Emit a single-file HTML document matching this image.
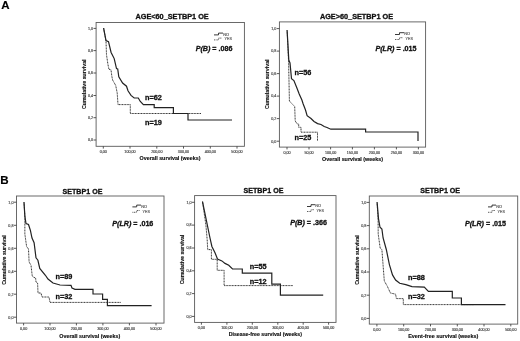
<!DOCTYPE html>
<html><head><meta charset="utf-8"><title>Figure</title>
<style>
html,body{margin:0;padding:0;background:#fff;}
svg{display:block;font-family:"Liberation Sans", Arial, sans-serif;filter:blur(0.25px);}
</style></head><body>
<svg width="520" height="341" viewBox="0 0 520 341">
<rect width="520" height="341" fill="#fff"/>
<text x="1.20" y="9.42" font-size="11.5" text-anchor="start" font-weight="bold" fill="#000" stroke="#000" stroke-width="0.15">A</text>
<text x="0.25" y="184.00" font-size="11.6" text-anchor="start" font-weight="bold" fill="#000" stroke="#000" stroke-width="0.15">B</text>
<rect x="96.1" y="22.5" width="148.30" height="123.80" fill="none" stroke="#5a5a5a" stroke-width="0.9"/>
<text x="172.10" y="18.71" font-size="7.3" text-anchor="middle" font-weight="bold" fill="#111" stroke="#111" stroke-width="0.3">AGE&lt;60_SETBP1 OE</text>
<path d="M93.50 28.4H96.1" stroke="#3a3a3a" stroke-width="0.85"/>
<text x="93.10" y="29.72" font-size="3.7" text-anchor="end" font-weight="normal" fill="#444" stroke="#444" stroke-width="0.15">1,0</text>
<path d="M93.50 50.6H96.1" stroke="#3a3a3a" stroke-width="0.85"/>
<text x="93.10" y="51.92" font-size="3.7" text-anchor="end" font-weight="normal" fill="#444" stroke="#444" stroke-width="0.15">0,8</text>
<path d="M93.50 73.0H96.1" stroke="#3a3a3a" stroke-width="0.85"/>
<text x="93.10" y="74.32" font-size="3.7" text-anchor="end" font-weight="normal" fill="#444" stroke="#444" stroke-width="0.15">0,6</text>
<path d="M93.50 95.5H96.1" stroke="#3a3a3a" stroke-width="0.85"/>
<text x="93.10" y="96.82" font-size="3.7" text-anchor="end" font-weight="normal" fill="#444" stroke="#444" stroke-width="0.15">0,4</text>
<path d="M93.50 117.7H96.1" stroke="#3a3a3a" stroke-width="0.85"/>
<text x="93.10" y="119.02" font-size="3.7" text-anchor="end" font-weight="normal" fill="#444" stroke="#444" stroke-width="0.15">0,2</text>
<path d="M93.50 140.0H96.1" stroke="#3a3a3a" stroke-width="0.85"/>
<text x="93.10" y="141.32" font-size="3.7" text-anchor="end" font-weight="normal" fill="#444" stroke="#444" stroke-width="0.15">0,0</text>
<path d="M103.3 146.3V148.60" stroke="#3a3a3a" stroke-width="0.85"/>
<text x="103.30" y="152.92" font-size="3.7" text-anchor="middle" font-weight="normal" fill="#444" stroke="#444" stroke-width="0.15">0,00</text>
<path d="M130 146.3V148.60" stroke="#3a3a3a" stroke-width="0.85"/>
<text x="130.00" y="152.92" font-size="3.7" text-anchor="middle" font-weight="normal" fill="#444" stroke="#444" stroke-width="0.15">100,00</text>
<path d="M156.8 146.3V148.60" stroke="#3a3a3a" stroke-width="0.85"/>
<text x="156.80" y="152.92" font-size="3.7" text-anchor="middle" font-weight="normal" fill="#444" stroke="#444" stroke-width="0.15">200,00</text>
<path d="M183.5 146.3V148.60" stroke="#3a3a3a" stroke-width="0.85"/>
<text x="183.50" y="152.92" font-size="3.7" text-anchor="middle" font-weight="normal" fill="#444" stroke="#444" stroke-width="0.15">300,00</text>
<path d="M210.3 146.3V148.60" stroke="#3a3a3a" stroke-width="0.85"/>
<text x="210.30" y="152.92" font-size="3.7" text-anchor="middle" font-weight="normal" fill="#444" stroke="#444" stroke-width="0.15">400,00</text>
<path d="M237 146.3V148.60" stroke="#3a3a3a" stroke-width="0.85"/>
<text x="237.00" y="152.92" font-size="3.7" text-anchor="middle" font-weight="normal" fill="#444" stroke="#444" stroke-width="0.15">500,00</text>
<text x="170.00" y="160.32" font-size="5.35" text-anchor="middle" font-weight="bold" fill="#111" stroke="#111" stroke-width="0.15">Overall survival (weeks)</text>
<text transform="translate(86.18 84.3) rotate(-90)" font-size="5.25" text-anchor="middle" font-weight="bold" fill="#111" stroke="#111" stroke-width="0.15">Cumulative survival</text>
<path d="M214 34.9H218.5V33.1H223" fill="none" stroke="#222" stroke-width="0.9"/>
<path d="M214 39.9H218.5V38.1H222" fill="none" stroke="#333" stroke-width="0.8" stroke-dasharray="1 0.6"/>
<text x="223.30" y="35.50" font-size="3.9" text-anchor="start" font-weight="normal" fill="#555" stroke="#555" stroke-width="0.15">NO</text>
<text x="224.60" y="40.39" font-size="3.6" text-anchor="start" font-weight="normal" fill="#555" stroke="#555" stroke-width="0.15">YES</text>
<text x="214.00" y="51.26" font-size="7.15" text-anchor="middle" font-weight="bold" fill="#111" stroke="#111" stroke-width="0.3"><tspan font-style="italic">P(B)</tspan> = .086</text>
<text x="153.40" y="100.31" font-size="7.3" text-anchor="middle" font-weight="bold" fill="#111" stroke="#111" stroke-width="0.3">n=62</text>
<text x="153.40" y="124.81" font-size="7.3" text-anchor="middle" font-weight="bold" fill="#111" stroke="#111" stroke-width="0.3">n=19</text>
<path d="M103.60 28.20L106.00 41.00L106.50 54.80L108.00 64.80L109.00 69.40L111.00 69.80L111.80 76.00L112.60 80.00L115.70 85.40L117.20 93.00L118.00 104.60L130.30 104.60L130.30 113.50L201.00 113.50" fill="none" stroke="#303030" stroke-width="1.0" stroke-dasharray="1 0.55"/>
<path d="M103.60 28.20L106.00 40.60L108.50 41.70L111.10 52.50L114.20 58.60L116.50 68.60L117.70 69.00L118.80 76.90L122.60 83.00L126.50 86.20L128.00 90.80L131.00 95.40L134.20 98.00L138.30 98.00L140.30 101.50L143.40 104.60L154.20 104.60L154.20 107.70L173.40 107.70L173.40 113.50L188.00 113.50L188.00 120.00L232.00 120.00" fill="none" stroke="#222" stroke-width="1.2" stroke-linejoin="miter"/>
<rect x="279.4" y="21.9" width="146.20" height="125.20" fill="none" stroke="#5a5a5a" stroke-width="0.9"/>
<text x="356.50" y="18.61" font-size="7.3" text-anchor="middle" font-weight="bold" fill="#111" stroke="#111" stroke-width="0.3">AGE&gt;60_SETBP1 OE</text>
<path d="M276.80 28.6H279.4" stroke="#3a3a3a" stroke-width="0.85"/>
<text x="276.40" y="29.92" font-size="3.7" text-anchor="end" font-weight="normal" fill="#444" stroke="#444" stroke-width="0.15">1,0</text>
<path d="M276.80 51.1H279.4" stroke="#3a3a3a" stroke-width="0.85"/>
<text x="276.40" y="52.42" font-size="3.7" text-anchor="end" font-weight="normal" fill="#444" stroke="#444" stroke-width="0.15">0,8</text>
<path d="M276.80 73.6H279.4" stroke="#3a3a3a" stroke-width="0.85"/>
<text x="276.40" y="74.92" font-size="3.7" text-anchor="end" font-weight="normal" fill="#444" stroke="#444" stroke-width="0.15">0,6</text>
<path d="M276.80 96.1H279.4" stroke="#3a3a3a" stroke-width="0.85"/>
<text x="276.40" y="97.42" font-size="3.7" text-anchor="end" font-weight="normal" fill="#444" stroke="#444" stroke-width="0.15">0,4</text>
<path d="M276.80 118.6H279.4" stroke="#3a3a3a" stroke-width="0.85"/>
<text x="276.40" y="119.92" font-size="3.7" text-anchor="end" font-weight="normal" fill="#444" stroke="#444" stroke-width="0.15">0,2</text>
<path d="M276.80 141.2H279.4" stroke="#3a3a3a" stroke-width="0.85"/>
<text x="276.40" y="142.52" font-size="3.7" text-anchor="end" font-weight="normal" fill="#444" stroke="#444" stroke-width="0.15">0,0</text>
<path d="M287 147.1V149.40" stroke="#3a3a3a" stroke-width="0.85"/>
<text x="287.00" y="153.72" font-size="3.7" text-anchor="middle" font-weight="normal" fill="#444" stroke="#444" stroke-width="0.15">0,00</text>
<path d="M309 147.1V149.40" stroke="#3a3a3a" stroke-width="0.85"/>
<text x="309.00" y="153.72" font-size="3.7" text-anchor="middle" font-weight="normal" fill="#444" stroke="#444" stroke-width="0.15">50,00</text>
<path d="M330.6 147.1V149.40" stroke="#3a3a3a" stroke-width="0.85"/>
<text x="330.60" y="153.72" font-size="3.7" text-anchor="middle" font-weight="normal" fill="#444" stroke="#444" stroke-width="0.15">100,00</text>
<path d="M352.4 147.1V149.40" stroke="#3a3a3a" stroke-width="0.85"/>
<text x="352.40" y="153.72" font-size="3.7" text-anchor="middle" font-weight="normal" fill="#444" stroke="#444" stroke-width="0.15">150,00</text>
<path d="M374.4 147.1V149.40" stroke="#3a3a3a" stroke-width="0.85"/>
<text x="374.40" y="153.72" font-size="3.7" text-anchor="middle" font-weight="normal" fill="#444" stroke="#444" stroke-width="0.15">200,00</text>
<path d="M396.4 147.1V149.40" stroke="#3a3a3a" stroke-width="0.85"/>
<text x="396.40" y="153.72" font-size="3.7" text-anchor="middle" font-weight="normal" fill="#444" stroke="#444" stroke-width="0.15">250,00</text>
<path d="M418.4 147.1V149.40" stroke="#3a3a3a" stroke-width="0.85"/>
<text x="418.40" y="153.72" font-size="3.7" text-anchor="middle" font-weight="normal" fill="#444" stroke="#444" stroke-width="0.15">300,00</text>
<text x="352.50" y="161.12" font-size="5.35" text-anchor="middle" font-weight="bold" fill="#111" stroke="#111" stroke-width="0.15">Overall survival (weeks)</text>
<text transform="translate(269.38 84.3) rotate(-90)" font-size="5.25" text-anchor="middle" font-weight="bold" fill="#111" stroke="#111" stroke-width="0.15">Cumulative survival</text>
<path d="M395 34.5H399.5V32.7H404" fill="none" stroke="#222" stroke-width="0.9"/>
<path d="M395 39.5H399.5V37.7H403" fill="none" stroke="#333" stroke-width="0.8" stroke-dasharray="1 0.6"/>
<text x="404.30" y="35.10" font-size="3.9" text-anchor="start" font-weight="normal" fill="#555" stroke="#555" stroke-width="0.15">NO</text>
<text x="405.60" y="39.99" font-size="3.6" text-anchor="start" font-weight="normal" fill="#555" stroke="#555" stroke-width="0.15">YES</text>
<text x="396.00" y="51.26" font-size="7.15" text-anchor="middle" font-weight="bold" fill="#111" stroke="#111" stroke-width="0.3"><tspan font-style="italic">P(LR)</tspan> = .015</text>
<text x="303.00" y="75.31" font-size="7.3" text-anchor="middle" font-weight="bold" fill="#111" stroke="#111" stroke-width="0.3">n=56</text>
<text x="303.00" y="139.61" font-size="7.3" text-anchor="middle" font-weight="bold" fill="#111" stroke="#111" stroke-width="0.3">n=25</text>
<path d="M287.10 30.20L288.60 62.00L289.40 101.00L292.00 103.80L294.70 106.50L295.20 121.00L297.30 124.00L298.70 124.00L298.70 127.30L301.00 127.30L301.00 132.20L317.50 132.20L317.50 141.00" fill="none" stroke="#303030" stroke-width="1.0" stroke-dasharray="1 0.55"/>
<path d="M287.10 30.20L288.80 60.00L290.00 63.00L291.50 78.60L293.90 80.50L296.90 88.00L299.20 94.00L301.90 100.00L303.10 103.80L305.50 110.00L307.10 115.70L311.00 118.50L314.00 121.50L317.60 123.60L321.00 124.50L324.20 126.50L327.00 127.50L330.80 129.20L365.60 129.20L365.60 132.00L418.00 132.00L418.00 141.00" fill="none" stroke="#222" stroke-width="1.2" stroke-linejoin="miter"/>
<rect x="16.5" y="196.0" width="147.50" height="127.10" fill="none" stroke="#5a5a5a" stroke-width="0.9"/>
<text x="82.50" y="193.54" font-size="7.1" text-anchor="middle" font-weight="bold" fill="#111" stroke="#111" stroke-width="0.3">SETBP1 OE</text>
<path d="M13.90 202.2H16.5" stroke="#3a3a3a" stroke-width="0.85"/>
<text x="13.50" y="203.52" font-size="3.7" text-anchor="end" font-weight="normal" fill="#444" stroke="#444" stroke-width="0.15">1,0</text>
<path d="M13.90 225.3H16.5" stroke="#3a3a3a" stroke-width="0.85"/>
<text x="13.50" y="226.62" font-size="3.7" text-anchor="end" font-weight="normal" fill="#444" stroke="#444" stroke-width="0.15">0,8</text>
<path d="M13.90 248.3H16.5" stroke="#3a3a3a" stroke-width="0.85"/>
<text x="13.50" y="249.62" font-size="3.7" text-anchor="end" font-weight="normal" fill="#444" stroke="#444" stroke-width="0.15">0,6</text>
<path d="M13.90 271.3H16.5" stroke="#3a3a3a" stroke-width="0.85"/>
<text x="13.50" y="272.62" font-size="3.7" text-anchor="end" font-weight="normal" fill="#444" stroke="#444" stroke-width="0.15">0,4</text>
<path d="M13.90 294.2H16.5" stroke="#3a3a3a" stroke-width="0.85"/>
<text x="13.50" y="295.52" font-size="3.7" text-anchor="end" font-weight="normal" fill="#444" stroke="#444" stroke-width="0.15">0,2</text>
<path d="M13.90 317.2H16.5" stroke="#3a3a3a" stroke-width="0.85"/>
<text x="13.50" y="318.52" font-size="3.7" text-anchor="end" font-weight="normal" fill="#444" stroke="#444" stroke-width="0.15">0,0</text>
<path d="M23.6 323.1V325.40" stroke="#3a3a3a" stroke-width="0.85"/>
<text x="23.60" y="329.72" font-size="3.7" text-anchor="middle" font-weight="normal" fill="#444" stroke="#444" stroke-width="0.15">0,00</text>
<path d="M50 323.1V325.40" stroke="#3a3a3a" stroke-width="0.85"/>
<text x="50.00" y="329.72" font-size="3.7" text-anchor="middle" font-weight="normal" fill="#444" stroke="#444" stroke-width="0.15">100,00</text>
<path d="M76.4 323.1V325.40" stroke="#3a3a3a" stroke-width="0.85"/>
<text x="76.40" y="329.72" font-size="3.7" text-anchor="middle" font-weight="normal" fill="#444" stroke="#444" stroke-width="0.15">200,00</text>
<path d="M102.9 323.1V325.40" stroke="#3a3a3a" stroke-width="0.85"/>
<text x="102.90" y="329.72" font-size="3.7" text-anchor="middle" font-weight="normal" fill="#444" stroke="#444" stroke-width="0.15">300,00</text>
<path d="M129.4 323.1V325.40" stroke="#3a3a3a" stroke-width="0.85"/>
<text x="129.40" y="329.72" font-size="3.7" text-anchor="middle" font-weight="normal" fill="#444" stroke="#444" stroke-width="0.15">400,00</text>
<path d="M156 323.1V325.40" stroke="#3a3a3a" stroke-width="0.85"/>
<text x="156.00" y="329.72" font-size="3.7" text-anchor="middle" font-weight="normal" fill="#444" stroke="#444" stroke-width="0.15">500,00</text>
<text x="89.80" y="337.52" font-size="5.35" text-anchor="middle" font-weight="bold" fill="#111" stroke="#111" stroke-width="0.15">Overall survival (weeks)</text>
<text transform="translate(6.38 260) rotate(-90)" font-size="5.25" text-anchor="middle" font-weight="bold" fill="#111" stroke="#111" stroke-width="0.15">Cumulative survival</text>
<path d="M132.4 206.9H136.7V205.1H141" fill="none" stroke="#222" stroke-width="0.9"/>
<path d="M132.4 212.3H136.7V210.5H140" fill="none" stroke="#333" stroke-width="0.8" stroke-dasharray="1 0.6"/>
<text x="141.30" y="207.50" font-size="3.9" text-anchor="start" font-weight="normal" fill="#555" stroke="#555" stroke-width="0.15">NO</text>
<text x="142.60" y="212.79" font-size="3.6" text-anchor="start" font-weight="normal" fill="#555" stroke="#555" stroke-width="0.15">YES</text>
<text x="132.80" y="226.26" font-size="7.15" text-anchor="middle" font-weight="bold" fill="#111" stroke="#111" stroke-width="0.3"><tspan font-style="italic">P(LR)</tspan> = .016</text>
<text x="64.00" y="279.01" font-size="7.3" text-anchor="middle" font-weight="bold" fill="#111" stroke="#111" stroke-width="0.3">n=89</text>
<text x="64.00" y="299.21" font-size="7.3" text-anchor="middle" font-weight="bold" fill="#111" stroke="#111" stroke-width="0.3">n=32</text>
<path d="M24.00 202.20L24.85 216.00L24.85 234.00L26.60 246.50L28.50 249.00L29.10 262.00L31.00 265.25L32.25 276.00L33.00 277.00L35.60 278.00L36.00 282.00L37.60 283.00L38.00 293.00L41.00 293.00L42.00 297.00L49.00 297.00L50.00 302.40L121.00 302.40" fill="none" stroke="#303030" stroke-width="1.0" stroke-dasharray="1 0.55"/>
<path d="M24.00 202.20L24.85 216.00L26.00 223.50L28.50 224.50L30.40 230.40L32.00 238.00L34.10 242.75L36.00 257.75L37.90 260.25L39.75 268.40L45.40 275.25L48.00 279.00L53.00 283.00L60.00 285.00L71.00 285.40L72.00 288.00L75.00 289.40L93.00 289.40L93.00 294.00L102.60 294.00L102.60 299.40L107.40 299.40L107.40 305.60L151.60 305.60" fill="none" stroke="#222" stroke-width="1.2" stroke-linejoin="miter"/>
<rect x="194.6" y="195.6" width="141.40" height="126.80" fill="none" stroke="#5a5a5a" stroke-width="0.9"/>
<text x="263.50" y="193.04" font-size="7.1" text-anchor="middle" font-weight="bold" fill="#111" stroke="#111" stroke-width="0.3">SETBP1 OE</text>
<path d="M192.00 202.3H194.6" stroke="#3a3a3a" stroke-width="0.85"/>
<text x="191.60" y="203.62" font-size="3.7" text-anchor="end" font-weight="normal" fill="#444" stroke="#444" stroke-width="0.15">1,0</text>
<path d="M192.00 225.1H194.6" stroke="#3a3a3a" stroke-width="0.85"/>
<text x="191.60" y="226.42" font-size="3.7" text-anchor="end" font-weight="normal" fill="#444" stroke="#444" stroke-width="0.15">0,8</text>
<path d="M192.00 248H194.6" stroke="#3a3a3a" stroke-width="0.85"/>
<text x="191.60" y="249.32" font-size="3.7" text-anchor="end" font-weight="normal" fill="#444" stroke="#444" stroke-width="0.15">0,6</text>
<path d="M192.00 270.8H194.6" stroke="#3a3a3a" stroke-width="0.85"/>
<text x="191.60" y="272.12" font-size="3.7" text-anchor="end" font-weight="normal" fill="#444" stroke="#444" stroke-width="0.15">0,4</text>
<path d="M192.00 293.6H194.6" stroke="#3a3a3a" stroke-width="0.85"/>
<text x="191.60" y="294.92" font-size="3.7" text-anchor="end" font-weight="normal" fill="#444" stroke="#444" stroke-width="0.15">0,2</text>
<path d="M192.00 316.4H194.6" stroke="#3a3a3a" stroke-width="0.85"/>
<text x="191.60" y="317.72" font-size="3.7" text-anchor="end" font-weight="normal" fill="#444" stroke="#444" stroke-width="0.15">0,0</text>
<path d="M201.4 322.4V324.70" stroke="#3a3a3a" stroke-width="0.85"/>
<text x="201.40" y="328.92" font-size="3.7" text-anchor="middle" font-weight="normal" fill="#444" stroke="#444" stroke-width="0.15">0,00</text>
<path d="M226.9 322.4V324.70" stroke="#3a3a3a" stroke-width="0.85"/>
<text x="226.90" y="328.92" font-size="3.7" text-anchor="middle" font-weight="normal" fill="#444" stroke="#444" stroke-width="0.15">100,00</text>
<path d="M252.3 322.4V324.70" stroke="#3a3a3a" stroke-width="0.85"/>
<text x="252.30" y="328.92" font-size="3.7" text-anchor="middle" font-weight="normal" fill="#444" stroke="#444" stroke-width="0.15">200,00</text>
<path d="M277.8 322.4V324.70" stroke="#3a3a3a" stroke-width="0.85"/>
<text x="277.80" y="328.92" font-size="3.7" text-anchor="middle" font-weight="normal" fill="#444" stroke="#444" stroke-width="0.15">300,00</text>
<path d="M303.2 322.4V324.70" stroke="#3a3a3a" stroke-width="0.85"/>
<text x="303.20" y="328.92" font-size="3.7" text-anchor="middle" font-weight="normal" fill="#444" stroke="#444" stroke-width="0.15">400,00</text>
<path d="M328.6 322.4V324.70" stroke="#3a3a3a" stroke-width="0.85"/>
<text x="328.60" y="328.92" font-size="3.7" text-anchor="middle" font-weight="normal" fill="#444" stroke="#444" stroke-width="0.15">500,00</text>
<text x="265.30" y="336.28" font-size="5.25" text-anchor="middle" font-weight="bold" fill="#111" stroke="#111" stroke-width="0.15">Disease-free survival (weeks)</text>
<text transform="translate(184.38 259.5) rotate(-90)" font-size="5.25" text-anchor="middle" font-weight="bold" fill="#111" stroke="#111" stroke-width="0.15">Cumulative survival</text>
<path d="M307 206.5H311.0V204.7H315" fill="none" stroke="#222" stroke-width="0.9"/>
<path d="M307 211.5H311.0V209.7H314" fill="none" stroke="#333" stroke-width="0.8" stroke-dasharray="1 0.6"/>
<text x="315.30" y="207.10" font-size="3.9" text-anchor="start" font-weight="normal" fill="#555" stroke="#555" stroke-width="0.15">NO</text>
<text x="316.60" y="211.99" font-size="3.6" text-anchor="start" font-weight="normal" fill="#555" stroke="#555" stroke-width="0.15">YES</text>
<text x="308.50" y="225.36" font-size="7.15" text-anchor="middle" font-weight="bold" fill="#111" stroke="#111" stroke-width="0.3"><tspan font-style="italic">P(B)</tspan> = .366</text>
<text x="258.20" y="269.01" font-size="7.3" text-anchor="middle" font-weight="bold" fill="#111" stroke="#111" stroke-width="0.3">n=55</text>
<text x="258.20" y="284.01" font-size="7.3" text-anchor="middle" font-weight="bold" fill="#111" stroke="#111" stroke-width="0.3">n=12</text>
<path d="M202.50 201.60L203.30 207.00L205.90 225.00L207.20 240.00L207.70 249.60L211.40 249.60L211.40 259.30L217.20 259.30L217.20 270.30L224.10 270.30L224.10 285.60L293.00 285.60" fill="none" stroke="#303030" stroke-width="1.0" stroke-dasharray="1 0.55"/>
<path d="M202.50 201.60L210.00 238.00L211.90 246.50L215.00 252.75L217.50 259.00L221.90 260.90L225.00 263.40L228.75 265.25L232.50 269.00L242.30 269.00L242.30 273.20L271.80 273.20L271.80 284.20L280.40 284.20L280.40 295.10L323.20 295.10" fill="none" stroke="#222" stroke-width="1.2" stroke-linejoin="miter"/>
<rect x="369.3" y="196.0" width="148.40" height="128.10" fill="none" stroke="#5a5a5a" stroke-width="0.9"/>
<text x="440.20" y="192.94" font-size="7.1" text-anchor="middle" font-weight="bold" fill="#111" stroke="#111" stroke-width="0.3">SETBP1 OE</text>
<path d="M366.70 202.4H369.3" stroke="#3a3a3a" stroke-width="0.85"/>
<text x="366.30" y="203.72" font-size="3.7" text-anchor="end" font-weight="normal" fill="#444" stroke="#444" stroke-width="0.15">1,0</text>
<path d="M366.70 225.6H369.3" stroke="#3a3a3a" stroke-width="0.85"/>
<text x="366.30" y="226.92" font-size="3.7" text-anchor="end" font-weight="normal" fill="#444" stroke="#444" stroke-width="0.15">0,8</text>
<path d="M366.70 248.8H369.3" stroke="#3a3a3a" stroke-width="0.85"/>
<text x="366.30" y="250.12" font-size="3.7" text-anchor="end" font-weight="normal" fill="#444" stroke="#444" stroke-width="0.15">0,6</text>
<path d="M366.70 272.0H369.3" stroke="#3a3a3a" stroke-width="0.85"/>
<text x="366.30" y="273.32" font-size="3.7" text-anchor="end" font-weight="normal" fill="#444" stroke="#444" stroke-width="0.15">0,4</text>
<path d="M366.70 295.2H369.3" stroke="#3a3a3a" stroke-width="0.85"/>
<text x="366.30" y="296.52" font-size="3.7" text-anchor="end" font-weight="normal" fill="#444" stroke="#444" stroke-width="0.15">0,2</text>
<path d="M366.70 318.4H369.3" stroke="#3a3a3a" stroke-width="0.85"/>
<text x="366.30" y="319.72" font-size="3.7" text-anchor="end" font-weight="normal" fill="#444" stroke="#444" stroke-width="0.15">0,0</text>
<path d="M376.9 324.1V326.40" stroke="#3a3a3a" stroke-width="0.85"/>
<text x="376.90" y="330.82" font-size="3.7" text-anchor="middle" font-weight="normal" fill="#444" stroke="#444" stroke-width="0.15">0,00</text>
<path d="M403.7 324.1V326.40" stroke="#3a3a3a" stroke-width="0.85"/>
<text x="403.70" y="330.82" font-size="3.7" text-anchor="middle" font-weight="normal" fill="#444" stroke="#444" stroke-width="0.15">100,00</text>
<path d="M430.5 324.1V326.40" stroke="#3a3a3a" stroke-width="0.85"/>
<text x="430.50" y="330.82" font-size="3.7" text-anchor="middle" font-weight="normal" fill="#444" stroke="#444" stroke-width="0.15">200,00</text>
<path d="M457.3 324.1V326.40" stroke="#3a3a3a" stroke-width="0.85"/>
<text x="457.30" y="330.82" font-size="3.7" text-anchor="middle" font-weight="normal" fill="#444" stroke="#444" stroke-width="0.15">300,00</text>
<path d="M484 324.1V326.40" stroke="#3a3a3a" stroke-width="0.85"/>
<text x="484.00" y="330.82" font-size="3.7" text-anchor="middle" font-weight="normal" fill="#444" stroke="#444" stroke-width="0.15">400,00</text>
<path d="M510.8 324.1V326.40" stroke="#3a3a3a" stroke-width="0.85"/>
<text x="510.80" y="330.82" font-size="3.7" text-anchor="middle" font-weight="normal" fill="#444" stroke="#444" stroke-width="0.15">500,00</text>
<text x="443.20" y="338.25" font-size="5.45" text-anchor="middle" font-weight="bold" fill="#111" stroke="#111" stroke-width="0.15">Event-free survival (weeks)</text>
<text transform="translate(359.38 260) rotate(-90)" font-size="5.25" text-anchor="middle" font-weight="bold" fill="#111" stroke="#111" stroke-width="0.15">Cumulative survival</text>
<path d="M488 206.9H492.0V205.1H496" fill="none" stroke="#222" stroke-width="0.9"/>
<path d="M488 212.3H492.0V210.5H495" fill="none" stroke="#333" stroke-width="0.8" stroke-dasharray="1 0.6"/>
<text x="496.30" y="207.50" font-size="3.9" text-anchor="start" font-weight="normal" fill="#555" stroke="#555" stroke-width="0.15">NO</text>
<text x="497.60" y="212.79" font-size="3.6" text-anchor="start" font-weight="normal" fill="#555" stroke="#555" stroke-width="0.15">YES</text>
<text x="485.50" y="225.66" font-size="7.15" text-anchor="middle" font-weight="bold" fill="#111" stroke="#111" stroke-width="0.3"><tspan font-style="italic">P(LR)</tspan> = .015</text>
<text x="416.50" y="279.51" font-size="7.3" text-anchor="middle" font-weight="bold" fill="#111" stroke="#111" stroke-width="0.3">n=88</text>
<text x="416.50" y="298.91" font-size="7.3" text-anchor="middle" font-weight="bold" fill="#111" stroke="#111" stroke-width="0.3">n=32</text>
<path d="M377.10 202.30L378.10 220.00L378.20 234.00L380.20 248.20L381.90 249.60L383.20 266.70L384.30 281.00L387.30 286.20L390.40 293.00L395.60 294.20L396.40 298.60L403.30 298.60L403.30 304.60L474.00 304.60" fill="none" stroke="#303030" stroke-width="1.0" stroke-dasharray="1 0.55"/>
<path d="M377.10 202.30L378.50 218.80L380.00 227.25L381.90 229.00L383.10 238.00L386.30 249.50L389.40 264.60L392.50 274.90L395.60 280.00L399.70 283.30L405.80 284.60L412.00 286.60L424.30 287.20L428.40 291.30L452.30 291.30L452.30 298.00L461.40 298.00L461.40 304.70L505.50 304.70" fill="none" stroke="#222" stroke-width="1.2" stroke-linejoin="miter"/>
</svg>
</body></html>
